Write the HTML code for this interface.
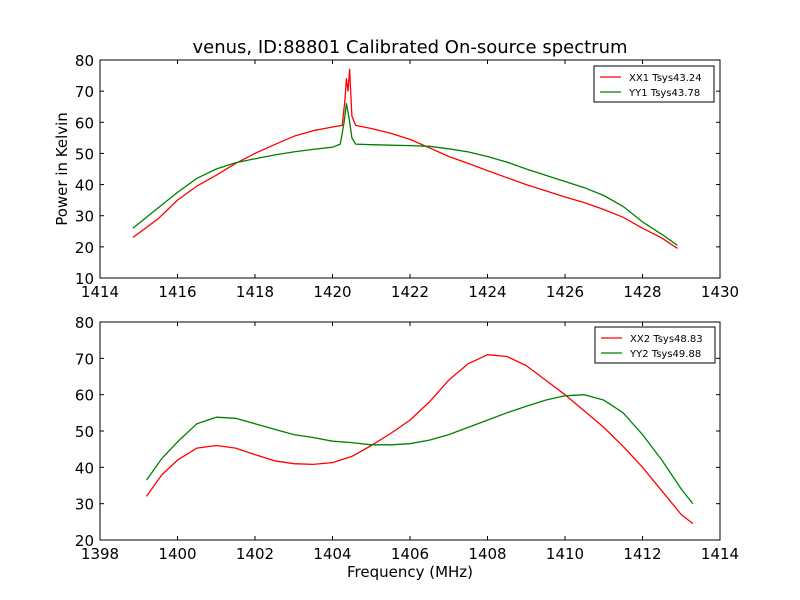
<!DOCTYPE html>
<html><head><meta charset="utf-8"><style>
body{margin:0;background:#fff;}
svg{display:block;font-family:"DejaVu Sans","Liberation Sans",sans-serif;}
</style></head><body>
<svg id="c" width="800" height="600"></svg>
<script>
const topFreqXX=[1414.85,1415.5,1416,1416.5,1417,1417.5,1418,1418.5,1419,1419.5,1420,1420.25,1420.32,1420.36,1420.4,1420.44,1420.5,1420.6,1421,1421.5,1422,1422.5,1423,1423.5,1424,1424.5,1425,1425.5,1426,1426.5,1427,1427.5,1428,1428.5,1428.9];
const topValsXX=[23,29,35,39.5,43,46.8,50,52.8,55.5,57.3,58.5,59,67,74,70,77,62,59,58,56.5,54.5,51.8,49,46.8,44.5,42.2,40,38,36,34.2,32,29.5,26,22.8,19.5];
const topFreqYY=[1414.85,1415.5,1416,1416.5,1417,1417.5,1418,1418.5,1419,1419.5,1420,1420.2,1420.3,1420.36,1420.42,1420.5,1420.6,1421,1422,1422.5,1423,1423.5,1424,1424.5,1425,1425.5,1426,1426.5,1427,1427.5,1428,1428.5,1428.9];
const topValsYY=[26,32.5,37.5,42,45,47,48.3,49.5,50.5,51.3,52,53,60,66,62,55,53,52.8,52.5,52.3,51.5,50.5,49,47.2,45,43,41,39,36.5,33,28,24,20.5];
const botFreqXX=[1399.2,1399.6,1400,1400.5,1401,1401.5,1402,1402.5,1403,1403.5,1404,1404.5,1405,1405.5,1406,1406.5,1407,1407.5,1408,1408.5,1409,1409.5,1410,1410.5,1411,1411.5,1412,1412.5,1413,1413.3];
const botValsXX=[32,38,42,45.3,46,45.3,43.5,41.8,41,40.8,41.3,43,46,49.3,53,58,64,68.5,71,70.5,68,64,60,55.5,51,45.8,40,33.5,27,24.5];
const botFreqYY=[1399.2,1399.6,1400,1400.5,1401,1401.5,1402,1402.5,1403,1403.5,1404,1404.5,1405,1405.5,1406,1406.5,1407,1407.5,1408,1408.5,1409,1409.5,1410,1410.5,1411,1411.5,1412,1412.5,1413,1413.3];
const botValsYY=[36.5,42.5,47,52,53.8,53.5,52,50.5,49,48.2,47.2,46.8,46.2,46.2,46.5,47.5,49,51,53,55,56.8,58.5,59.7,60,58.5,55,49,42,34,30];
const topXTicks=[1414,1416,1418,1420,1422,1424,1426,1428,1430];
const topYTicks=[10,20,30,40,50,60,70,80];
const botXTicks=[1398,1400,1402,1404,1406,1408,1410,1412,1414];
const botYTicks=[20,30,40,50,60,70,80];

const svg=document.getElementById('c');
const NS='http://www.w3.org/2000/svg';
function mk(t,a,p){const e=document.createElementNS(NS,t);for(const k in a)e.setAttribute(k,a[k]);(p||svg).appendChild(e);return e;}

function panel(name,top,bot,xmin,xmax,ymin,ymax,xt,yt,series,legend){
  const L=100,R=720;
  const sx=v=>L+(v-xmin)/(xmax-xmin)*(R-L);
  const sy=v=>bot-(v-ymin)/(ymax-ymin)*(bot-top);
  const g=mk('g',{});
  
  
  series.forEach(s=>{
    const pts=s.f.map((f,i)=>sx(f).toFixed(1)+','+sy(s.v[i]).toFixed(1)).join(' ');
    const pl=mk('polyline',{points:pts,fill:'none',stroke:s.c,'stroke-width':1.3,'stroke-linejoin':'round'},g);
    
    
  });
  const fr=mk('rect',{x:L,y:top,width:R-L,height:bot-top,fill:'none',stroke:'#000','stroke-width':1},g);
  
  
  xt.forEach(t=>{const x=sx(t);
    mk('line',{x1:x,x2:x,y1:bot,y2:bot-4,stroke:'#000'},g);
    mk('line',{x1:x,x2:x,y1:top,y2:top+4,stroke:'#000'},g);
    const tx=mk('text',{x:x,y:bot+19,'text-anchor':'middle','font-size':15},g);tx.textContent=t;
    
    
  });
  yt.forEach(t=>{const y=sy(t);
    mk('line',{x1:L,x2:L+4,y1:y,y2:y,stroke:'#000'},g);
    mk('line',{x1:R,x2:R-4,y1:y,y2:y,stroke:'#000'},g);
    const tx=mk('text',{x:L-6,y:y+6,'text-anchor':'end','font-size':15},g);tx.textContent=t;
    
    
  });
  const lg=mk('g',{},g);
  
  
  mk('rect',{x:legend.x,y:legend.y,width:legend.w,height:36,fill:'#fff',stroke:'#000'},lg);
  series.forEach((s,i)=>{const y=legend.y+11+i*15;
    mk('line',{x1:legend.x+6,x2:legend.x+27,y1:y,y2:y,stroke:s.c,'stroke-width':1.3},lg);
    const tx=mk('text',{x:legend.x+35,y:y+4,'font-size':10},lg);tx.textContent=s.label;
    
    
  });
}
panel('top-panel',60,278,1414,1430,10,80,topXTicks,topYTicks,
 [{f:topFreqXX,v:topValsXX,c:'#ff0000',n:'series-xx1',label:'XX1 Tsys43.24'},
  {f:topFreqYY,v:topValsYY,c:'#008000',n:'series-yy1',label:'YY1 Tsys43.78'}],{x:594,y:66,w:120});
panel('bottom-panel',322,540,1398,1414,20,80,botXTicks,botYTicks,
 [{f:botFreqXX,v:botValsXX,c:'#ff0000',n:'series-xx2',label:'XX2 Tsys48.83'},
  {f:botFreqYY,v:botValsYY,c:'#008000',n:'series-yy2',label:'YY2 Tsys49.88'}],{x:595,y:327,w:120});

const title=mk('text',{x:410,y:53,'text-anchor':'middle','font-size':18});title.textContent='venus, ID:88801 Calibrated On-source spectrum';


const yl=mk('text',{x:0,y:0,'text-anchor':'middle','font-size':15,transform:'translate(67,169) rotate(-90)'});yl.textContent='Power in Kelvin';


const xl=mk('text',{x:410,y:577,'text-anchor':'middle','font-size':15});xl.textContent='Frequency (MHz)';


</script>
</body></html>
